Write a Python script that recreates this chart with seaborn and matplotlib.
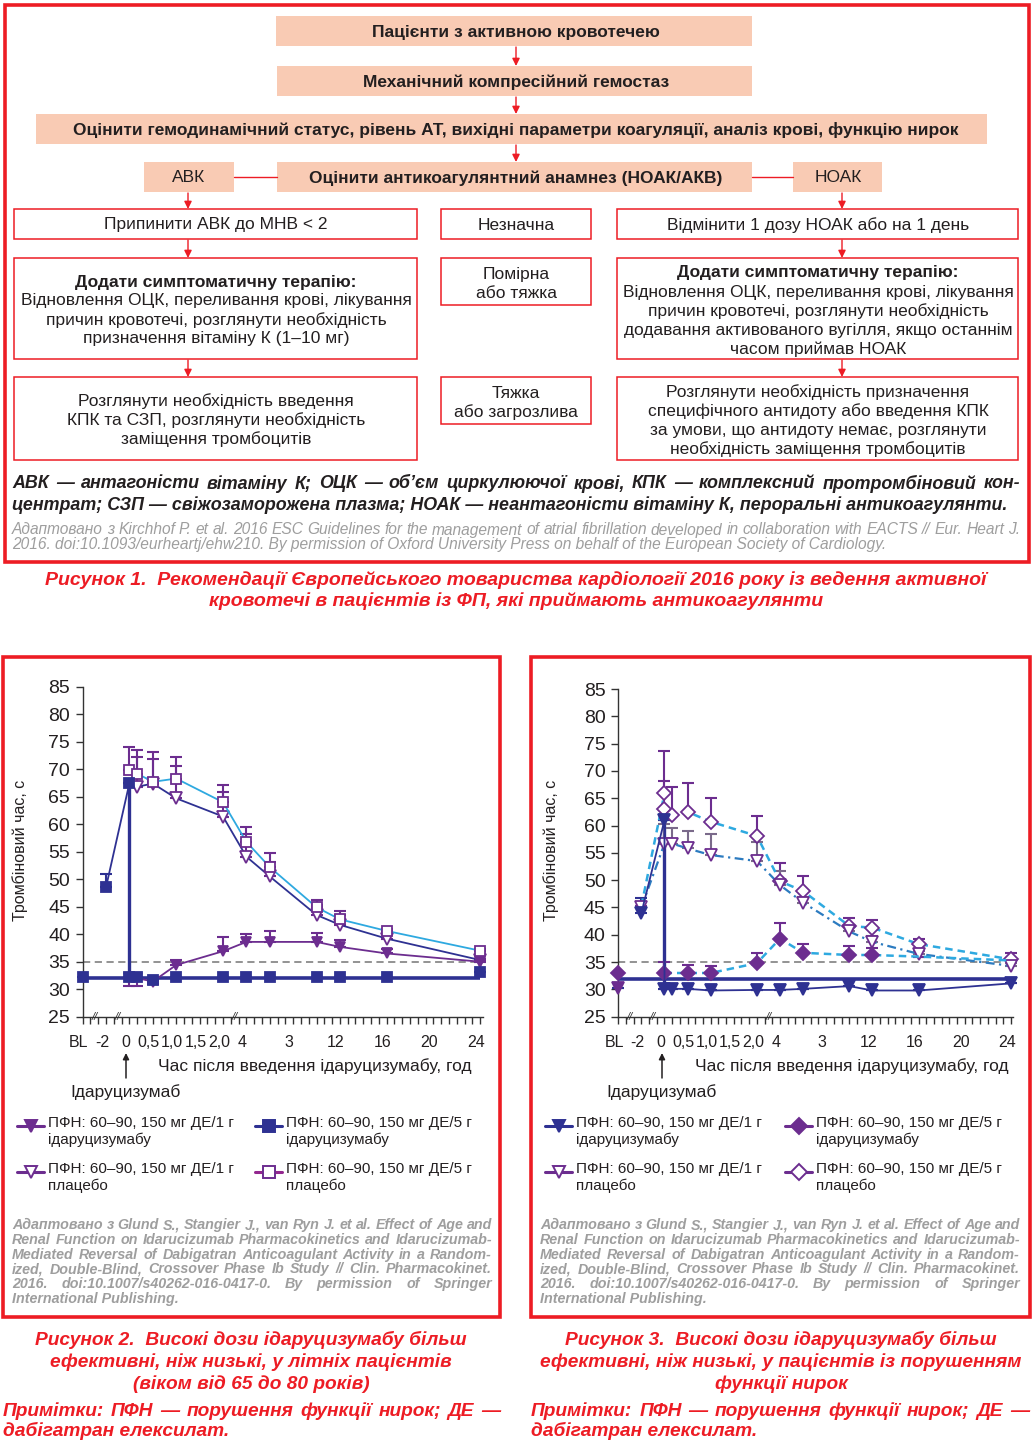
import numpy as np
import pandas as pd
import matplotlib
matplotlib.use('Agg')
import matplotlib.pyplot as plt
from matplotlib.patches import Rectangle
from matplotlib.transforms import ScaledTranslation
import seaborn as sns

sns.set_theme(style='ticks')
plt.rcParams['font.family'] = ['Liberation Sans', 'DejaVu Sans']

RED = '#ED1C24'
PEACH = '#F9CBB4'
PURPLE = '#6C2D8F'
NAVY = '#2E3192'
LBLUE = '#2EA9E0'
MBLUE = '#2C7BC0'
DARK = '#231F20'
GREY = '#9E9E9E'

# ---------------- data: figure 2 (age 65-80) ----------------
# times in hours, 'BL' = baseline
t_a = [0, 1/6, 0.5, 1, 2, 4, 6, 10, 12, 16, 24]
y_a = [32.0, 32.0, 31.4, 34.4, 36.9, 38.6, 38.6, 38.6, 37.7, 36.5, 35.0]
lo_a = [30.6, 30.6, 30.9, 34.4, 36.9, 38.6, 38.6, 38.6, 37.7, 36.5, 35.0]
up_a = [32.0, 32.0, 31.4, 35.3, 39.5, 40.0, 40.6, 40.2, 38.9, 37.4, 35.0]

t_b = ['BL', -2, 0, 0, 1/6, 0.5, 1, 2, 4, 6, 10, 12, 16, 24]
y_b = [32.2, 48.6, 67.5, 32.2, 32.2, 31.6, 32.2, 32.2, 32.2, 32.2, 32.2, 32.2, 32.2, 33.2]
up_b = [32.2, 50.9, 67.5, 32.2, 32.2, 31.6, 32.2, 32.2, 32.2, 32.2, 32.2, 32.2, 32.2, 33.2]

t_c = [-2, 0, 1/6, 0.5, 1, 2, 4, 6, 10, 12, 16, 24]
y_c = [48.6, 67.5, 66.8, 67.4, 64.7, 61.4, 54.1, 50.5, 43.5, 41.7, 39.2, 35.3]
up_c = [48.6, 67.5, 72.2, 71.8, 70.5, 65.9, 58.3, 53.2, 45.3, 43.5, 40.0, 35.5]

t_d = [0, 1/6, 0.5, 1, 2, 4, 6, 10, 12, 16, 24]
y_d = [69.8, 69.2, 67.7, 68.3, 64.0, 56.8, 52.2, 44.9, 42.7, 40.6, 37.0]
up_d = [74.1, 73.5, 73.2, 72.2, 67.2, 59.5, 54.7, 46.2, 44.3, 40.9, 37.4]

ref_fig2 = 32.0

# ---------------- data: figure 3 (renal impairment) ----------------
t_e = ['BL', -2, 0, 0, 1/6, 0.5, 1, 2, 4, 6, 10, 12, 16, 24]
y_e = [30.2, 44.0, 61.0, 30.1, 30.1, 30.1, 29.8, 29.9, 29.9, 30.1, 30.6, 29.8, 29.8, 31.1]
up_e = [30.2, 46.7, 61.0, 30.1, 30.1, 30.1, 29.8, 29.9, 29.9, 30.1, 30.6, 29.8, 29.8, 31.1]

t_f = ['BL', 0, 0.5, 1, 2, 4, 6, 10, 12, 16, 24]
y_f = [33.0, 33.0, 33.0, 33.0, 34.8, 39.3, 36.7, 36.3, 36.3, 36.0, 35.3]
up_f = [33.0, 35.1, 34.5, 34.3, 36.6, 42.1, 38.3, 37.9, 37.5, 36.0, 35.3]

t_g = [-2, 0, 1/6, 0.5, 1, 2, 4, 6, 10, 12, 16, 24]
y_g = [45.0, 56.7, 56.7, 55.8, 54.6, 53.5, 49.1, 45.9, 40.6, 38.7, 36.5, 34.3]
up_g = [45.0, 60.2, 59.6, 59.0, 58.4, 56.9, 51.7, 47.0, 41.5, 39.8, 37.0, 34.8]

t_h = [-2, 0, 0, 1/6, 0.5, 1, 2, 4, 6, 10, 12, 16, 24]
y_h = [45.3, 65.9, 63.1, 61.9, 62.5, 60.7, 58.1, 49.8, 48.0, 41.6, 41.3, 38.3, 35.5]
up_h = [45.3, 73.6, 68.2, 67.1, 67.7, 65.0, 61.7, 53.2, 50.8, 43.1, 42.7, 39.2, 36.7]

ref_fig3 = 31.9
threshold = 35

tick_times = ['BL', -2, 0, 0.5, 1, 1.5, 2, 4, 8, 12, 16, 20, 24]
tick_labels = ['BL', '-2', '0', '0,5', '1,0', '1,5', '2,0', '4', '3', '12', '16', '20', '24']


def tpos(t):
    # broken time axis: BL, -2, 0..2 h stretched, then linear from 4 h
    if t == 'BL':
        return 0
    if t < 0:
        return 3
    if t <= 2:
        return 6 + 6 * t
    return 21 + 1.5 * (t - 4)


W, H = 1034, 1442
fig = plt.figure(figsize=(W / 100, H / 100), dpi=100)
bg = fig.add_axes([0, 0, 1, 1])
bg.set_xlim(0, W)
bg.set_ylim(H, 0)
bg.axis('off')


def box(x0, y0, x1, y1, fill='none', edge='none', lw=1.1):
    bg.add_patch(Rectangle((x0, y0), x1 - x0, y1 - y0, facecolor=fill, edgecolor=edge, lw=lw))


def arrow(x, y0, y1):
    bg.annotate('', xy=(x, y1), xytext=(x, y0),
                arrowprops=dict(arrowstyle='-|>', color=RED, lw=1, mutation_scale=11, shrinkA=0, shrinkB=0))


def txt(x, y, s, size=12.5, ha='center', **kw):
    kw.setdefault('color', DARK)
    return bg.text(x, y, s, fontsize=size, ha=ha, va='center', **kw)


def justify(s, x0, x1, y, **kw):
    words = s.split()
    objs = [bg.text(x0, y, w, va='center', ha='left', **kw) for w in words]
    r = fig.canvas.get_renderer()
    ws = [o.get_window_extent(r).width for o in objs]
    gap = (x1 - x0 - sum(ws)) / (len(words) - 1)
    x = x0
    for o, w in zip(objs, ws):
        o.set_x(x)
        x += w + gap


# ---------------- figure 1: flowchart ----------------
box(5, 5, 1029, 562, edge=RED, lw=2.6)
box(276, 16, 752, 46, fill=PEACH)
txt(516, 32, 'Пацієнти з активною кровотечею', weight='bold')
arrow(516, 47, 66)
box(277, 66, 752, 96, fill=PEACH)
txt(516, 82, 'Механічний компресійний гемостаз', weight='bold')
arrow(516, 97, 114)
box(36, 114, 987, 144, fill=PEACH)
txt(516, 130, 'Оцінити гемодинамічний статус, рівень АТ, вихідні параметри коагуляції, аналіз крові, функцію нирок',
    weight='bold')
arrow(516, 145, 162)
box(144, 162, 234, 192, fill=PEACH)
txt(189, 178, 'АВК')
box(277, 162, 752, 192, fill=PEACH)
txt(516, 178, 'Оцінити антикоагулянтний анамнез (НОАК/АКВ)', weight='bold')
box(793, 162, 882, 192, fill=PEACH)
txt(838, 178, 'НОАК')
bg.plot([234, 277], [177, 177], color=RED, lw=1)
bg.plot([752, 793], [177, 177], color=RED, lw=1)
arrow(188, 193, 209)
arrow(842, 193, 209)

box(14, 209, 417, 239, edge=RED)
txt(216, 225, 'Припинити АВК до МНВ < 2')
box(441, 209, 591, 239, edge=RED)
txt(516, 225, 'Незначна')
box(617, 209, 1018, 239, edge=RED)
txt(818, 225, 'Відмінити 1 дозу НОАК або на 1 день')
arrow(188, 240, 258)
arrow(842, 240, 258)

box(14, 258, 417, 359, edge=RED)
txt(216, 282, 'Додати симптоматичну терапію:', weight='bold')
for i, s in enumerate(['Відновлення ОЦК, переливання крові, лікування',
                       'причин кровотечі, розглянути необхідність',
                       'призначення вітаміну К (1–10 мг)']):
    txt(216, 301 + 19 * i, s)
box(441, 258, 591, 305, edge=RED)
txt(516, 274, 'Помірна')
txt(516, 293, 'або тяжка')
box(617, 258, 1018, 359, edge=RED)
txt(818, 272, 'Додати симптоматичну терапію:', weight='bold')
for i, s in enumerate(['Відновлення ОЦК, переливання крові, лікування',
                       'причин кровотечі, розглянути необхідність',
                       'додавання активованого вугілля, якщо останнім',
                       'часом приймав НОАК']):
    txt(818, 292 + 19 * i, s)
arrow(188, 360, 377)
arrow(842, 360, 377)

box(14, 377, 417, 460, edge=RED)
for i, s in enumerate(['Розглянути необхідність введення',
                       'КПК та СЗП, розглянути необхідність',
                       'заміщення тромбоцитів']):
    txt(216, 401 + 19 * i, s)
box(441, 377, 591, 424, edge=RED)
txt(516, 393, 'Тяжка')
txt(516, 412, 'або загрозлива')
box(617, 377, 1018, 460, edge=RED)
for i, s in enumerate(['Розглянути необхідність призначення',
                       'специфічного антидоту або введення КПК',
                       'за умови, що антидоту немає, розглянути',
                       'необхідність заміщення тромбоцитів']):
    txt(818, 392 + 19 * i, s)

justify('АВК — антагоністи вітаміну К; ОЦК — об’єм циркулюючої крові, КПК — комплексний протромбіновий кон-',
        12, 1020, 484, fontsize=12.9, weight='bold', style='italic', color=DARK)
txt(12, 505, 'центрат; СЗП — свіжозаморожена плазма; НОАК — неантагоністи вітаміну К, пероральні антикоагулянти.',
    size=12.9, ha='left', weight='bold', style='italic')
justify('Адаптовано з Kirchhof P. et al. 2016 ESC Guidelines for the management of atrial fibrillation developed '
        'in collaboration with EACTS // Eur. Heart J.', 12, 1020, 530, fontsize=11.2, style='italic', color=GREY)
txt(12, 545, '2016. doi:10.1093/eurheartj/ehw210. By permission of Oxford University Press on behalf of the '
    'European Society of Cardiology.', size=11.2, ha='left', style='italic', color=GREY)
txt(516, 580, 'Рисунок 1.  Рекомендації Європейського товариства кардіології 2016 року із ведення активної',
    size=14, weight='bold', style='italic', color=RED)
txt(516, 601, 'кровотечі в пацієнтів із ФП, які приймають антикоагулянти',
    size=14, weight='bold', style='italic', color=RED)


# ---------------- figures 2 and 3: line charts ----------------
def make_axes(x0, x1, y0, y1):
    ax = fig.add_axes([x0 / W, 1 - y1 / H, (x1 - x0) / W, (y1 - y0) / H])
    ax.set_facecolor('none')
    ax.set_xlim(0, 51.3)
    ax.set_ylim(25, 85)
    ax.set_yticks(range(25, 90, 5))
    ax.set_xticks([tpos(t) for t in tick_times])
    ax.set_xticklabels(tick_labels)
    ax.set_xticks(range(0, 52), minor=True)
    ax.tick_params(axis='y', labelsize=14, length=5, width=1, color='#333333', pad=4, labelcolor=DARK)
    ax.tick_params(axis='x', which='both', labelsize=11.5, length=5, width=1, color='#333333', pad=8,
                   labelcolor=DARK)
    shift = ScaledTranslation(-4 / 100, 0, fig.dpi_scale_trans)
    for lab in ax.get_xticklabels():
        lab.set_transform(lab.get_transform() + shift)
    for sp in ['top', 'right']:
        ax.spines[sp].set_visible(False)
    for sp in ['left', 'bottom']:
        ax.spines[sp].set_color('#333333')
        ax.spines[sp].set_linewidth(1)
    for bx in [1.5, 4.5, 19.5]:
        ax.text(bx, 25, '//', fontsize=8, style='italic', ha='center', va='center', color='#333333',
                clip_on=False)
    ax.grid(False)
    return ax


def series(ax, times, vals, color, marker, ms, mfc, ls='-', lw=1.3, line=True, skip=(), z=4):
    df = pd.DataFrame({'x': [tpos(t) for t in times], 'y': vals})
    keep = [i for i in range(len(df)) if i not in skip]
    sns.lineplot(data=df, x='x', y='y', ax=ax, estimator=None, sort=False, color=color,
                 linestyle=ls if line else 'none', lw=lw, marker=marker, markersize=ms,
                 markerfacecolor=mfc, markeredgecolor=PURPLE if mfc == 'white' else mfc,
                 markeredgewidth=1.3, markevery=keep, clip_on=False, zorder=z)


def errs(ax, times, vals, up, lo=None, color=PURPLE):
    x = [tpos(t) for t in times]
    lo = vals if lo is None else lo
    yerr = [np.array(vals) - np.array(lo), np.array(up) - np.array(vals)]
    ax.errorbar(x, vals, yerr=yerr, fmt='none', ecolor=color, elinewidth=1.5, capsize=4.5,
                capthick=1.5, clip_on=False, zorder=3)


ax1 = make_axes(82.7, 482.5, 686.7, 1016.7)
ax1.hlines(threshold, 0, 51.3, colors='#8A8A8A', linestyles=(0, (4, 2.5)), lw=1.3, zorder=2)
ax1.hlines(ref_fig2, 0, tpos(24), colors=NAVY, lw=2.6, zorder=3)
ax1.vlines(tpos(0), y_b[3], y_b[2], colors=NAVY, lw=2.4, zorder=3)
errs(ax1, t_d, y_d, up_d)
errs(ax1, t_c, y_c, up_c)
errs(ax1, t_a, y_a, up_a, lo_a)
errs(ax1, t_b, y_b, up_b, color=NAVY)
series(ax1, t_c, y_c, NAVY, 'v', 8, 'white', skip=(0, 1))
series(ax1, t_d, y_d, LBLUE, 's', 7.5, 'white')
series(ax1, t_a, y_a, PURPLE, 'v', 7.5, PURPLE)
series(ax1, t_b, y_b, NAVY, 's', 7, NAVY, line=False, z=5)
ax1.set_xlabel('')
ax1.set_ylabel('')

ax2 = make_axes(618.3, 1013.3, 689, 1016.7)
ax2.hlines(threshold, 0, 51.3, colors='#8A8A8A', linestyles=(0, (4, 2.5)), lw=1.3, zorder=2)
ax2.hlines(ref_fig3, 0, tpos(24), colors=NAVY, lw=2.6, zorder=3)
ax2.vlines(tpos(0), y_e[3], y_e[2], colors=NAVY, lw=2.4, zorder=3)
errs(ax2, t_h, y_h, up_h)
errs(ax2, t_g, y_g, up_g, color='#7A6A8A')
errs(ax2, t_f, y_f, up_f)
errs(ax2, t_e, y_e, up_e, color=NAVY)
series(ax2, t_h, y_h, LBLUE, 'D', 7, 'white', ls=(0, (3, 2)), lw=1.8, skip=(0,))
series(ax2, t_g, y_g, MBLUE, 'v', 8, 'white', ls=(0, (4, 2, 1, 2)), lw=1.6)
series(ax2, t_f[1:], y_f[1:], LBLUE, 'D', 7, PURPLE, ls=(0, (3, 2)), lw=1.8, skip=(8, 9))
series(ax2, t_f[:1], y_f[:1], PURPLE, 'D', 7, PURPLE, line=False)
series(ax2, t_e[1:], y_e[1:], NAVY, 'v', 8, NAVY, z=5)
series(ax2, t_e[:1], y_e[:1], PURPLE, 'v', 8, PURPLE, line=False, z=5)
ax2.set_xlabel('')
ax2.set_ylabel('')

# axis titles and annotations
for x0, xc, xl, yl in [(126, 315, 70, 20), (662, 852, 606, 551)]:
    txt(yl, 850, 'Тромбіновий час, с', rotation=90, size=11.5)
    txt(xc, 1066, 'Час після введення ідаруцизумабу, год', size=12.5)
    bg.annotate('', xy=(x0, 1053), xytext=(x0, 1078),
                arrowprops=dict(arrowstyle='-|>', color=DARK, lw=1.1, mutation_scale=9, shrinkA=0, shrinkB=0))
    txt(xl, 1092, 'Ідаруцизумаб', size=12.5, ha='left')


# legends
def legend_item(x, y, color, marker, mfc, label):
    bg.plot([x, x + 27], [y, y], color=color, lw=2.2)
    bg.plot([x + 13.5], [y], marker=marker, ms=8, color=color, mfc=mfc,
            mec=PURPLE if mfc == 'white' else mfc, mew=1.4)
    bg.text(x + 31, y - 10, label, fontsize=11, ha='left', va='top', color=DARK, linespacing=1.25)


lab1i = 'ПФН: 60–90, 150 мг ДЕ/1 г\nідаруцизумабу'
lab5i = 'ПФН: 60–90, 150 мг ДЕ/5 г\nідаруцизумабу'
lab1p = 'ПФН: 60–90, 150 мг ДЕ/1 г\nплацебо'
lab5p = 'ПФН: 60–90, 150 мг ДЕ/5 г\nплацебо'
legend_item(17, 1126, PURPLE, 'v', PURPLE, lab1i)
legend_item(255, 1126, NAVY, 's', NAVY, lab5i)
legend_item(17, 1172, PURPLE, 'v', 'white', lab1p)
legend_item(255, 1172, '#93278F', 's', 'white', lab5p)
legend_item(545, 1126, NAVY, 'v', NAVY, lab1i)
legend_item(785, 1126, PURPLE, 'D', PURPLE, lab5i)
legend_item(545, 1172, PURPLE, 'v', 'white', lab1p)
legend_item(785, 1172, PURPLE, 'D', 'white', lab5p)

# frames, sources, captions
cite = ['Адаптовано з Glund S., Stangier J., van Ryn J. et al. Effect of Age and',
        'Renal Function on Idarucizumab Pharmacokinetics and Idarucizumab-',
        'Mediated Reversal of Dabigatran Anticoagulant Activity in a Random-',
        'ized, Double-Blind, Crossover Phase Ib Study // Clin. Pharmacokinet.',
        '2016. doi:10.1007/s40262-016-0417-0. By permission of Springer',
        'International Publishing.']
for fx0, fx1, cx0, cx1 in [(3, 500, 12, 492), (531, 1030, 540, 1020)]:
    box(fx0, 657, fx1, 1317, edge=RED, lw=2.6)
    for i, s in enumerate(cite[:-1]):
        justify(s, cx0, cx1, 1225 + 14.8 * i, fontsize=10.3, style='italic', weight='bold', color=GREY)
    txt(cx0, 1225 + 14.8 * 5, cite[-1], size=10.3, ha='left', style='italic', weight='bold', color=GREY)

cap = dict(size=13.8, weight='bold', style='italic', color=RED)
for i, s in enumerate(['Рисунок 2.  Високі дози ідаруцизумабу більш',
                       'ефективні, ніж низькі, у літніх пацієнтів',
                       '(віком від 65 до 80 років)']):
    txt(251, 1340 + 22 * i, s, **cap)
for i, s in enumerate(['Рисунок 3.  Високі дози ідаруцизумабу більш',
                       'ефективні, ніж низькі, у пацієнтів із порушенням',
                       'функції нирок']):
    txt(781, 1340 + 22 * i, s, **cap)
for x0, x1 in [(3, 500), (531, 1029)]:
    justify('Примітки:  ПФН — порушення функції нирок; ДЕ —', x0, x1, 1411,
            fontsize=13.8, weight='bold', style='italic', color=RED)
    txt(x0, 1431, 'дабігатран елексилат.', ha='left', **cap)

fig.savefig('out.png', dpi=100)
